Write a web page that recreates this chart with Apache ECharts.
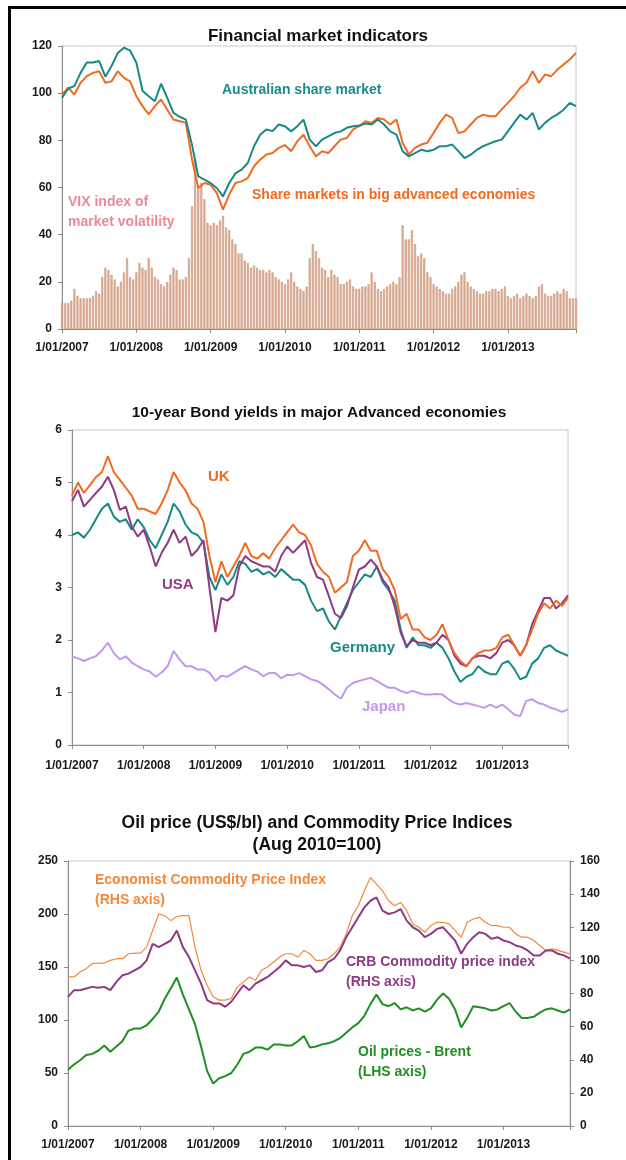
<!DOCTYPE html>
<html>
<head>
<meta charset="utf-8">
<script src="https://cdn.jsdelivr.net/npm/echarts@6/dist/echarts.min.js"></script>
<style>
  html, body { margin: 0; padding: 0; background: #fff; }
  #main { width: 626px; height: 1160px; }
  .frame {
    position: absolute; left: 8px; top: 6px; width: 618px; height: 1154px;
    border-left: 3px solid #000; border-top: 3px solid #000;
    box-sizing: border-box; pointer-events: none;
  }
</style>
</head>
<body>
<div id="main"></div>
<div class="frame"></div>
<script>
// x axis = months since Jan 2007 (0..83)
const yearTicks = ['1/01/2007', '1/01/2008', '1/01/2009', '1/01/2010', '1/01/2011', '1/01/2012', '1/01/2013'];

// chart 1: financial market indicators (monthly index levels)
const ausShares = [
  98, 102, 103, 108.6, 113, 113, 113.6, 107, 111.5, 117, 119.3, 118,
  113, 101, 98.7, 96.6, 104, 98, 91.6, 90, 88.8, 78, 64.7, 63.3,
  61.9, 59.8, 56.2, 61.9, 66, 67.6, 70.4, 77.5, 82.4, 84.6, 83.9, 86.7,
  86, 83.8, 86, 88.8, 80.3, 77.5, 80.3, 81.7, 83.1, 83.8, 85.3, 86,
  86.3, 87.1, 86.7, 88.8, 86.7, 83.8, 82.4, 75.4, 73.2, 74.6, 76, 75.4,
  76, 77.5, 77.5, 78.2, 75.4, 72.5, 73.9, 76, 77.5, 78.6, 79.6, 80.3,
  83.8, 87.4, 90.9, 88.8, 91.6, 84.6, 87.4, 89.5, 91, 93, 95.9, 94.5
];
const bigEconShares = [
  99.4, 102.3, 99.4, 104.4, 107.2, 108.6, 109.3, 104.4, 105, 109.3, 106.5, 105,
  98.7, 94.5, 91, 94.5, 97.3, 93, 88.8, 88.1, 87.4, 71.8, 59.8, 61.9,
  61.2, 57.6, 50.6, 57, 61.9, 62.6, 64, 69, 71.8, 74, 74.6, 76.8,
  78, 75.4, 79.6, 82.4, 77.5, 73.2, 75.4, 74.6, 77.5, 80.3, 81, 84.6,
  86, 88.1, 87.4, 89.5, 88.8, 86.7, 88.8, 79, 74, 76.8, 78.2, 79,
  83.1, 87.4, 90.9, 89.5, 83.1, 83.8, 86.7, 89.5, 90.9, 90.2, 90.2, 93.1,
  95.9, 98.7, 102.3, 104.4, 109.3, 104.4, 107.9, 107.2, 110, 112.2, 114.3, 117.1
];
// VIX, two readings per month
const vixIndex = [
  11, 11, 11, 12, 17, 14, 13, 13, 13, 13, 14, 16, 15, 22, 26, 25, 23, 21, 18, 20, 24, 30, 22, 21,
  24, 28, 26, 25, 30, 26, 22, 21, 19, 18, 20, 23, 26, 25, 21, 21, 22, 30, 52, 72, 60, 62, 55, 45,
  44, 45, 44, 46, 48, 43, 42, 38, 36, 32, 32, 29, 28, 26, 27, 26, 25, 25, 24, 25, 24, 22, 21, 20,
  19, 21, 24, 20, 18, 17, 16, 18, 30, 36, 33, 30, 26, 25, 22, 25, 23, 22, 19, 19, 20, 21, 18, 17,
  17, 18, 18, 19, 24, 20, 17, 16, 17, 18, 19, 20, 19, 22, 44, 38, 38, 42, 36, 31, 32, 30, 24, 22,
  19, 18, 17, 16, 15, 15, 17, 18, 20, 23, 24, 20, 18, 17, 16, 15, 15, 16, 16, 17, 17, 16, 17, 18,
  14, 13, 14, 15, 13, 14, 15, 14, 13, 14, 18, 19, 15, 14, 14, 15, 16, 15, 17, 16, 13, 13, 13
];

// chart 2: 10-year bond yields (%)
const ukYield = [
  4.75, 5.0, 4.8, 4.95, 5.1, 5.2, 5.5, 5.2, 5.05, 4.9, 4.75, 4.5,
  4.5, 4.45, 4.4, 4.6, 4.85, 5.2, 5.0, 4.85, 4.6, 4.5, 4.25, 3.6,
  3.1, 3.5, 3.2, 3.4, 3.6, 3.85, 3.6, 3.55, 3.65, 3.55, 3.75, 3.9,
  4.05, 4.2, 4.05, 4.0, 3.8, 3.45, 3.3, 3.2, 2.9, 3.0, 3.1, 3.6,
  3.7, 3.9, 3.7, 3.7, 3.35, 3.2, 2.95, 2.4, 2.5, 2.2, 2.2, 2.05,
  2.0, 2.1, 2.3, 2.0, 1.75, 1.6, 1.5, 1.65, 1.75, 1.8, 1.8, 1.85,
  2.05, 2.1, 1.9, 1.7, 1.9, 2.2, 2.5, 2.7, 2.6, 2.75, 2.65, 2.8
];
const usaYield = [
  4.64, 4.86, 4.54, 4.67, 4.8, 4.92, 5.11, 4.86, 4.48, 4.54, 4.16, 3.97,
  4.1, 3.78, 3.4, 3.66, 3.85, 4.1, 3.85, 3.97, 3.6, 3.72, 3.9, 3.0,
  2.15, 2.8, 2.75, 2.85, 3.4, 3.6, 3.5, 3.45, 3.4, 3.4, 3.3, 3.6,
  3.78, 3.66, 3.78, 3.9, 3.47, 3.2, 3.15, 2.83, 2.5, 2.42, 2.64, 3.0,
  3.34, 3.4, 3.53, 3.4, 3.15, 3.0, 2.64, 2.14, 1.88, 2.0, 1.95, 1.95,
  1.9, 1.95, 2.1, 2.0, 1.7, 1.55, 1.5, 1.65, 1.7, 1.7, 1.65, 1.75,
  1.95, 2.0, 1.9, 1.7, 1.9, 2.3, 2.55, 2.8, 2.8, 2.6, 2.7, 2.85
];
const germanyYield = [
  4.0, 4.05, 3.95, 4.1, 4.3, 4.5, 4.6, 4.35, 4.25, 4.3, 4.1, 4.3,
  4.15, 3.9, 3.75, 4.0, 4.25, 4.6, 4.45, 4.2, 4.05, 4.0, 3.85, 3.2,
  2.95, 3.25, 3.05, 3.2, 3.5, 3.45, 3.3, 3.35, 3.25, 3.3, 3.2, 3.35,
  3.25, 3.15, 3.15, 3.05, 2.75, 2.55, 2.6, 2.35, 2.2, 2.45, 2.7, 2.95,
  3.1, 3.25, 3.2, 3.4, 3.1, 2.95, 2.75, 2.2, 1.85, 2.05, 1.9, 1.9,
  1.85, 1.95, 1.85, 1.65, 1.4, 1.2, 1.3, 1.35, 1.5, 1.4, 1.35, 1.35,
  1.55, 1.6, 1.45, 1.25, 1.3, 1.55, 1.65, 1.85, 1.9, 1.8, 1.75, 1.7
];
const japanYield = [
  1.69, 1.65, 1.6, 1.65, 1.69, 1.8, 1.95, 1.75, 1.63, 1.69, 1.57, 1.5,
  1.44, 1.4, 1.3, 1.38, 1.5, 1.79, 1.63, 1.5, 1.5, 1.44, 1.44, 1.38,
  1.22, 1.32, 1.3, 1.37, 1.44, 1.5, 1.44, 1.4, 1.31, 1.37, 1.37, 1.27,
  1.34, 1.33, 1.37, 1.31, 1.25, 1.22, 1.15, 1.06, 0.96, 0.88, 1.09, 1.18,
  1.22, 1.25, 1.28, 1.22, 1.15, 1.09, 1.09, 1.03, 0.99, 1.03, 0.99, 0.96,
  0.96, 0.97, 0.96, 0.87, 0.8, 0.77, 0.8, 0.77, 0.74, 0.71, 0.77, 0.71,
  0.77, 0.68, 0.58, 0.55, 0.84, 0.87, 0.8, 0.77, 0.71, 0.68, 0.63, 0.68
];

// chart 3: oil price (LHS) and commodity indices (RHS)
const economistIdx = [
  90, 90, 93, 95, 98, 98.4, 98.4, 100, 101, 101, 104, 104.4,
  104.4, 108, 118, 128, 127, 124, 126.5, 127, 127, 108, 94, 85,
  78, 76, 76, 77, 84, 87, 90, 88, 94, 96, 99, 102,
  104, 104, 102, 106, 104, 100, 100, 101, 104, 108, 116, 127,
  133, 142, 150, 146, 142, 136, 133, 135, 130, 122, 120, 117,
  121, 123, 123, 122, 118, 114, 123, 125, 126, 123, 121, 121,
  120, 120, 116, 114, 114, 112, 109, 106, 107, 106, 105, 104
];
const crbIdx = [
  78, 82, 82, 83, 84, 83.5, 84, 82, 87, 91, 92, 94,
  96, 100, 110, 108, 110, 112, 118, 108, 102, 94, 86, 76,
  74, 74, 72, 75, 80, 85, 82, 86, 88, 90, 93, 96,
  100, 97, 97, 96, 97, 93, 94, 99, 101, 106, 114, 120,
  126, 132, 136, 138, 130, 128, 129, 131, 124, 120, 118, 114,
  116, 119, 120, 116, 112, 104, 110, 114, 117, 116, 113, 114,
  112, 111, 109, 108, 106, 103, 103, 106, 106, 104, 103, 101
];
const brentOil = [
  53, 58, 62, 67, 68, 71, 76, 70, 75, 80, 90, 92,
  92, 95, 101, 108, 120, 130, 140, 124, 110, 96, 75, 52,
  40, 45, 47, 50, 58, 68, 70, 74, 74, 72, 77, 77,
  76, 76, 80, 85, 74, 75, 77, 78, 80, 83, 88, 93,
  97, 104, 115, 124, 115, 113, 116, 110, 112, 109, 111, 108,
  111, 119, 125, 120, 110, 93, 102, 113, 112, 111, 109, 110,
  113, 116, 108, 102, 102, 103, 107, 110, 111, 109, 107, 110
];

const FONT = "'Liberation Sans', Arial, sans-serif";
const monthly = arr => arr.map((v, i) => [i, v]);
const halfMonthly = arr => arr.map((v, i) => [i / 2, v]);

function xAxisFor(gridIndex, margin) {
  return {
    type: 'value', gridIndex: gridIndex, min: 0, max: 83, interval: 12,
    axisLine: { lineStyle: { color: '#8c8c8c', width: 1 } },
    axisTick: { length: 4, lineStyle: { color: '#8c8c8c' } },
    axisLabel: {
      formatter: v => (v % 12 === 0 ? yearTicks[v / 12] : ''),
      color: '#1a1a1a', fontWeight: 'bold', fontSize: 12, fontFamily: FONT, margin: margin
    },
    splitLine: { show: false }
  };
}
function yAxisFor(gridIndex, min, max, interval, position) {
  return {
    type: 'value', gridIndex: gridIndex, min: min, max: max, interval: interval,
    position: position || 'left',
    axisLine: { show: true, lineStyle: { color: '#8c8c8c', width: 1 } },
    axisTick: { show: true, length: 4, lineStyle: { color: '#8c8c8c' } },
    axisLabel: { color: '#1a1a1a', fontWeight: 'bold', fontSize: 12, fontFamily: FONT, margin: 10 },
    splitLine: { show: false }
  };
}
function label(text, x, y, color, size, align) {
  return {
    type: 'text', x: x, y: y, z: 100,
    style: {
      text: text, fill: color, font: 'bold ' + size + 'px ' + FONT,
      align: align || 'left', verticalAlign: 'middle',
      textAlign: align || 'left', textVerticalAlign: 'middle', lineHeight: 20
    }
  };
}
function line(name, data, xi, yi, color, width) {
  return {
    name: name, type: 'line', xAxisIndex: xi, yAxisIndex: yi, data: monthly(data),
    showSymbol: false, symbol: 'none', z: 5,
    lineStyle: { color: color, width: width }
  };
}

const chart = echarts.init(document.getElementById('main'), null, { renderer: 'canvas' });
chart.setOption({
  animation: false,
  backgroundColor: '#fff',
  grid: [
    { left: 62, top: 46, width: 514, height: 283, show: true, borderColor: '#c8c8c8', borderWidth: 1 },
    { left: 72, top: 430, width: 496, height: 315, show: true, borderColor: '#c8c8c8', borderWidth: 1 },
    { left: 68, top: 861, width: 502, height: 265, show: true, borderColor: '#c8c8c8', borderWidth: 1 }
  ],
  xAxis: [xAxisFor(0, 13), xAxisFor(1, 15), xAxisFor(2, 13)],
  yAxis: [
    yAxisFor(0, 0, 120, 20),
    yAxisFor(1, 0, 6, 1),
    yAxisFor(2, 0, 250, 50),
    yAxisFor(2, 0, 160, 20, 'right')
  ],
  series: [
    {
      name: 'VIX', type: 'bar', xAxisIndex: 0, yAxisIndex: 0, data: halfMonthly(vixIndex),
      barWidth: 2, z: 2,
      itemStyle: { color: '#dfb29a', borderColor: '#c48a6c', borderWidth: 0.5 }
    },
    line('Share markets in big advanced economies', bigEconShares, 0, 0, '#f26a21', 2),
    line('Australian share market', ausShares, 0, 0, '#178a85', 2),

    line('Japan', japanYield, 1, 1, '#c596ee', 2),
    line('Germany', germanyYield, 1, 1, '#178a85', 2),
    line('USA', usaYield, 1, 1, '#8f3a84', 2),
    line('UK', ukYield, 1, 1, '#f26a21', 2),

    line('Oil prices - Brent', brentOil, 2, 2, '#1f8f1f', 2),
    line('Economist Commodity Price Index', economistIdx, 2, 3, '#f3883b', 1.2),
    line('CRB Commodity price index', crbIdx, 2, 3, '#8f3a84', 2)
  ],
  graphic: [
    label('Financial market indicators', 318, 36, '#111', 17, 'center'),
    label('Australian share market', 222, 90, '#1a8c8c', 14),
    label('Share markets in big advanced economies', 252, 195, '#f26a21', 14),
    label('VIX index of\nmarket volatility', 68, 212, '#e9899c', 14),

    label('10-year Bond yields in major Advanced economies', 319, 413, '#111', 15.5, 'center'),
    label('UK', 208, 477, '#f26a21', 15),
    label('USA', 162, 585, '#8f3a84', 15),
    label('Germany', 330, 648, '#178a85', 15),
    label('Japan', 362, 707, '#c596ee', 15),

    label('Oil price (US$/bl) and Commodity Price Indices', 317, 823, '#111', 17.5, 'center'),
    label('(Aug 2010=100)', 317, 845, '#111', 17.5, 'center'),
    label('Economist Commodity Price Index\n(RHS axis)', 95, 890, '#f3883b', 14),
    label('CRB Commodity price index\n(RHS axis)', 346, 972, '#8f3a84', 14),
    label('Oil prices - Brent\n(LHS axis)', 358, 1062, '#1f8f1f', 14)
  ]
});
</script>
</body>
</html>
